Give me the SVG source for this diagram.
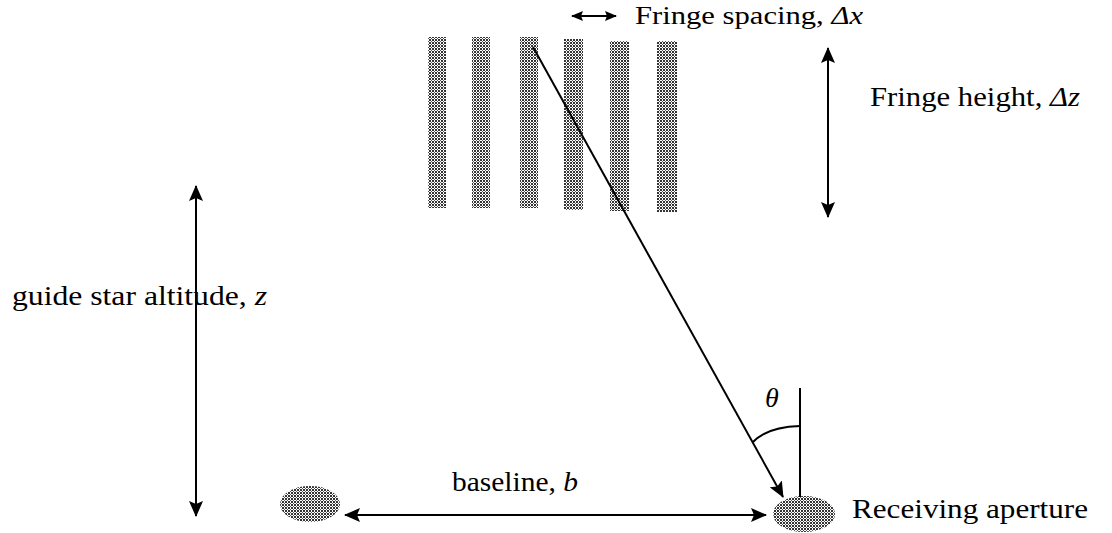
<svg xmlns="http://www.w3.org/2000/svg" width="1112" height="533" viewBox="0 0 1112 533">
  <style>
    .lbl { font-family: "Liberation Serif", "Times New Roman", serif; font-size: 27px; fill: #000; }
    .it { font-style: italic; }
    .ln { stroke: #000; stroke-width: 2; fill: none; }
    .dot { fill: url(#halftone); }
  </style>
  <defs>
    <pattern id="halftone" width="3" height="3" patternUnits="userSpaceOnUse">
      <rect width="3" height="3" fill="#fff"/>
      <rect x="0" y="0" width="2" height="2" fill="#333"/>
      <rect x="2" y="2" width="1" height="1" fill="#555"/>
    </pattern>
    <marker id="ah" viewBox="0 0 16 14" refX="15" refY="7" markerWidth="16" markerHeight="14" markerUnits="userSpaceOnUse" orient="auto-start-reverse">
      <path d="M0,0 L16,7 L0,14 L3,7 z" fill="#000"/>
    </marker>
    <marker id="ahs" viewBox="0 0 12 10" refX="11" refY="5" markerWidth="12" markerHeight="10" markerUnits="userSpaceOnUse" orient="auto-start-reverse">
      <path d="M0,0 L12,5 L0,10 L2,5 z" fill="#000"/>
    </marker>
  </defs>

  <g id="fringes">
    <rect class="dot" x="428" y="37" width="18" height="171"/>
    <rect class="dot" x="472" y="37" width="18" height="171"/>
    <rect class="dot" x="520" y="37" width="18" height="171"/>
    <rect class="dot" x="564" y="39" width="19" height="171"/>
    <rect class="dot" x="610" y="41" width="19" height="170"/>
    <rect class="dot" x="657" y="41" width="20" height="171"/>
  </g>

  <g id="guide-aperture">
    <ellipse class="dot" cx="310" cy="504" rx="30" ry="18"/>
  </g>
  <g id="receiving-aperture">
    <ellipse class="dot" cx="804" cy="514" rx="31" ry="18"/>
  </g>

  <g id="connectors">
    <line class="ln" x1="572" y1="16" x2="616" y2="16" marker-start="url(#ahs)" marker-end="url(#ahs)"/>
    <line class="ln" x1="828" y1="48" x2="828" y2="217" marker-start="url(#ah)" marker-end="url(#ah)"/>
    <line class="ln" x1="196" y1="186" x2="196" y2="516" marker-start="url(#ah)" marker-end="url(#ah)"/>
    <line class="ln" x1="345" y1="515" x2="766" y2="515" marker-start="url(#ah)" marker-end="url(#ah)"/>
    <line class="ln" x1="533" y1="47" x2="783" y2="497" marker-end="url(#ah)"/>
    <line class="ln" x1="800" y1="388" x2="800" y2="497"/>
    <path class="ln" d="M800,426 Q767,427 753,442"/>
  </g>

  <g id="labels">
    <text class="lbl" x="635" y="24" textLength="228" lengthAdjust="spacingAndGlyphs" style="font-size:26px">Fringe spacing, <tspan class="it">Δx</tspan></text>
    <text class="lbl" x="870" y="106" textLength="210" lengthAdjust="spacingAndGlyphs">Fringe height, <tspan class="it">Δz</tspan></text>
    <text class="lbl" x="12" y="305" textLength="255" lengthAdjust="spacingAndGlyphs">guide star altitude, <tspan class="it">z</tspan></text>
    <text class="lbl" x="452" y="491" textLength="126" lengthAdjust="spacingAndGlyphs">baseline, <tspan class="it">b</tspan></text>
    <text class="lbl" x="852" y="518" textLength="236" lengthAdjust="spacingAndGlyphs">Receiving aperture</text>
    <text class="lbl it" x="765" y="407" style="font-size:28px">θ</text>
  </g>
</svg>
